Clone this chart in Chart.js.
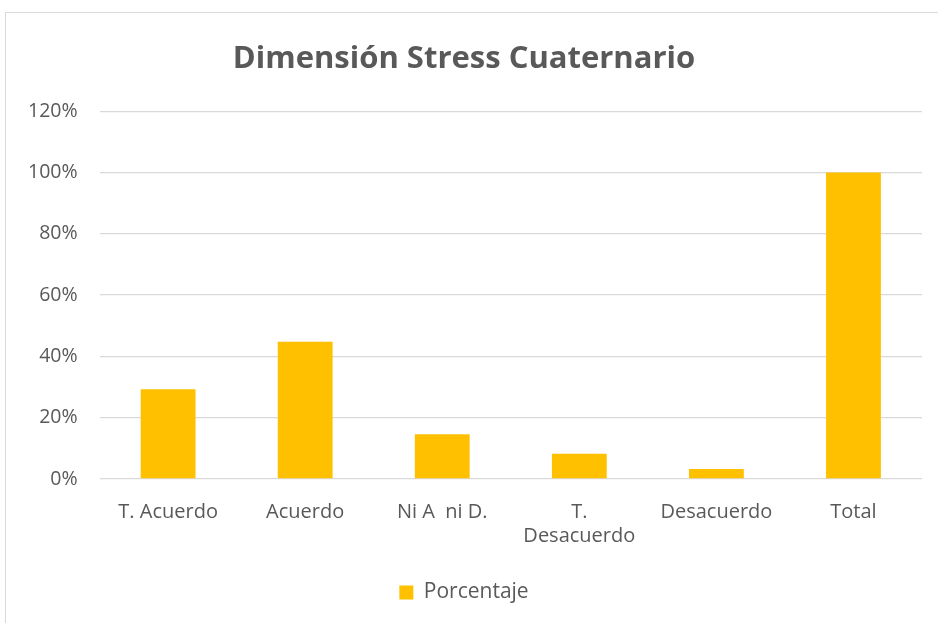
<!DOCTYPE html>
<html>
<head>
<meta charset="utf-8">
<script src="https://cdn.jsdelivr.net/npm/chart.js@4/dist/chart.umd.min.js"></script>
<style>
  html, body { margin: 0; padding: 0; background: #fff; }
  #wrap { position: relative; width: 938px; height: 623px; overflow: hidden; }
  #frame { position: absolute; left: 5px; top: 12px; width: 940px; height: 620px; border: 1px solid #d9d9d9; box-sizing: border-box; }
  canvas { position: absolute; left: 0; top: 0; }
</style>
</head>
<body>
<div id="wrap">
  <div id="frame"></div>
  <canvas id="c" width="938" height="623"></canvas>
</div>
<script>
const categories = ["T. Acuerdo", "Acuerdo", "Ni A  ni D.", ["T.", "Desacuerdo"], "Desacuerdo", "Total"];
const porcentaje = [0.293, 0.448, 0.146, 0.082, 0.033, 1.0];
const seriesName = "Porcentaje";
const titleText = "Dimensión Stress Cuaternario";

const FONT = "'Open Sans', 'Noto Sans', sans-serif";
const GREY = "#595959";

new Chart(document.getElementById("c"), {
  type: "bar",
  data: {
    labels: categories,
    datasets: [{
      label: seriesName,
      data: porcentaje,
      backgroundColor: "#FFC000",
      borderWidth: 0,
      categoryPercentage: 1.0,
      barPercentage: 0.4
    }]
  },
  options: {
    responsive: false,
    animation: false,
    devicePixelRatio: 1,
    layout: { padding: { left: 6, right: 16, top: 41, bottom: 10 } },
    plugins: {
      title: {
        display: true,
        text: titleText,
        color: GREY,
        font: { family: FONT, size: 31, weight: "bold" },
        padding: { top: 0, bottom: 33 }
      },
      legend: {
        display: true,
        position: "bottom",
        labels: {
          color: GREY,
          font: { family: FONT, size: 21 },
          boxWidth: 14,
          boxHeight: 14,
          padding: 21
        }
      },
      tooltip: { enabled: false }
    },
    scales: {
      x: {
        grid: { display: false },
        border: { display: false },
        ticks: {
          color: GREY,
          font: { family: FONT, size: 20 },
          padding: 13,
          maxRotation: 0,
          autoSkip: false
        }
      },
      y: {
        min: 0,
        max: 1.2,
        grid: { color: "#d9d9d9", lineWidth: 1.3, drawTicks: false },
        border: { display: false },
        ticks: {
          stepSize: 0.2,
          color: GREY,
          font: { family: FONT, size: 19.5 },
          padding: 22,
          callback: v => Math.round(v * 100) + "%"
        }
      }
    }
  }
});
</script>
</body>
</html>
